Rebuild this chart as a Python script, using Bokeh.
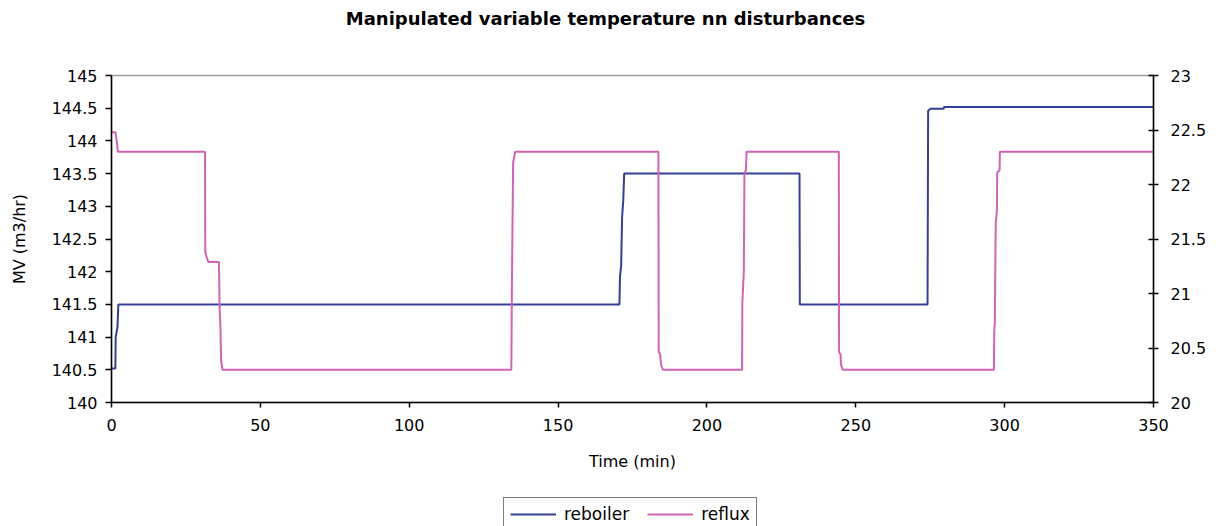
from bokeh.plotting import figure
from bokeh.layouts import column
from bokeh.models import (Range1d, LinearAxis, Legend, LegendItem, Label,
                          FixedTicker, CustomJSTickFormatter)
from bokeh.embed import file_html
from bokeh.resources import INLINE

# Reboiler flow (left axis) and reflux flow (right axis) against time
reboiler_time = [0, 1.3, 1.4, 2.0, 2.3, 170.6, 170.8, 171.2, 171.5, 171.9, 172.2,
                 231.1, 231.2, 274.1, 274.3, 275.0, 279.5, 279.7, 350]
reboiler_mv = [140.52, 140.52, 141.0, 141.15, 141.5, 141.5, 141.92, 142.1, 142.83,
               143.09, 143.5, 143.5, 141.5, 141.5, 144.46, 144.49, 144.49, 144.52, 144.52]

reflux_time = [0, 1.3, 1.9, 2.1, 31.4, 31.5, 32.0, 32.5, 36.1, 36.3, 36.6, 36.8, 37.3,
               134.3, 134.5, 134.9, 135.6, 183.7, 183.8, 184.3, 184.6, 185.2,
               211.8, 211.9, 212.4, 212.6, 213.1, 213.3, 244.3, 244.4, 244.9, 245.0, 245.6,
               296.4, 296.5, 296.7, 297.0, 297.4, 297.5, 298.3, 298.4, 350]
reflux_mv = [22.48, 22.48, 22.37, 22.30, 22.30, 21.38, 21.33, 21.29, 21.29, 20.87, 20.69,
             20.39, 20.30, 20.30, 21.1, 22.2, 22.30, 22.30, 20.47, 20.44, 20.35, 20.30,
             20.30, 20.91, 21.21, 22.11, 22.13, 22.30, 22.30, 20.46, 20.44, 20.35, 20.30,
             20.30, 20.66, 20.72, 21.64, 21.76, 22.11, 22.13, 22.30, 22.30]

series_names = ["reboiler", "reflux"]
x_ticks = [0, 50, 100, 150, 200, 250, 300, 350]
left_ticks = [140, 140.5, 141, 141.5, 142, 142.5, 143, 143.5, 144, 144.5, 145]
right_ticks = [20, 20.5, 21, 21.5, 22, 22.5, 23]

FONT = "DejaVu Sans"
BLUE = "#363f96"
PINK = "#d064b4"
W = 1222


def bare_figure(height):
    f = figure(width=W, height=height, output_backend="svg", toolbar_location=None,
               x_axis_type=None, y_axis_type=None,
               x_range=Range1d(0, 1), y_range=Range1d(0, 1),
               min_border_left=0, min_border_right=0, min_border_top=0,
               min_border_bottom=0, background_fill_color="white",
               border_fill_color="white")
    f.outline_line_color = None
    f.xgrid.visible = False
    f.ygrid.visible = False
    return f


# --- title strip (its frame lines up with the chart frame, x measured from there) ---
head = bare_figure(40)
head.add_layout(Label(x=494, y=22, x_units="screen", y_units="screen",
                      text="Manipulated variable temperature nn disturbances",
                      text_font=FONT, text_font_size="18px", text_font_style="bold",
                      text_align="center", text_baseline="middle", text_color="black"))

# --- main chart ---
p = figure(width=W, height=455, output_backend="svg", toolbar_location=None,
           x_range=Range1d(0, 350), y_range=Range1d(140, 145),
           min_border_left=111, min_border_right=69, min_border_top=35,
           min_border_bottom=93, background_fill_color="white",
           border_fill_color="white")
p.extra_y_ranges = {"reflux": Range1d(20, 23)}
p.xgrid.visible = False
p.ygrid.visible = False
p.outline_line_color = "#a0a0a0"
p.outline_line_width = 1.5

fmt = CustomJSTickFormatter(code="return tick.toString();")


def style_axis(ax):
    ax.axis_line_color = "black"
    ax.axis_line_width = 1.5
    ax.major_tick_line_color = "black"
    ax.major_tick_line_width = 1.5
    ax.minor_tick_line_color = None
    ax.major_label_text_font = FONT
    ax.major_label_text_font_size = "16px"
    ax.major_label_text_color = "black"
    ax.axis_label_text_font = FONT
    ax.axis_label_text_font_size = "16px"
    ax.axis_label_text_font_style = "normal"
    ax.axis_label_text_color = "black"
    ax.formatter = fmt


xa = p.xaxis[0]
style_axis(xa)
xa.ticker = FixedTicker(ticks=x_ticks)
xa.major_tick_in = 0
xa.major_tick_out = 5
xa.major_label_standoff = 11
xa.axis_label = "Time (min)"
xa.axis_label_standoff = 18

ya = p.yaxis[0]
style_axis(ya)
ya.ticker = FixedTicker(ticks=left_ticks)
ya.major_tick_in = 0
ya.major_tick_out = 6
ya.major_label_standoff = 8
ya.axis_label = "MV (m3/hr)"
ya.axis_label_standoff = 20

ra = LinearAxis(y_range_name="reflux")
style_axis(ra)
ra.ticker = FixedTicker(ticks=right_ticks)
ra.major_tick_in = 5
ra.major_tick_out = 5
ra.major_label_standoff = 12
p.add_layout(ra, "right")

p.line(reboiler_time, reboiler_mv, line_color=BLUE, line_width=2)
p.line(reflux_time, reflux_mv, line_color=PINK, line_width=2, y_range_name="reflux")

# --- legend strip: key lines sit outside the strip's range, only their legend glyphs show ---
foot = bare_figure(31)
key_reb = foot.line([-5, -4], [-5, -4], line_color=BLUE, line_width=2)
key_ref = foot.line([-5, -4], [-5, -4], line_color=PINK, line_width=2)
legend = Legend(items=[LegendItem(label=series_names[0], renderers=[key_reb]),
                       LegendItem(label=series_names[1], renderers=[key_ref])],
                orientation="horizontal", location=(392, -5),
                border_line_color="black", border_line_width=1.5,
                background_fill_color="white", background_fill_alpha=1,
                label_text_font=FONT, label_text_font_size="17px",
                label_text_color="black",
                glyph_width=46, glyph_height=16, label_standoff=8,
                spacing=18, padding=6, margin=0)
foot.add_layout(legend, "center")

layout = column(head, p, foot, spacing=0)
open("out.html", "w").write(file_html(layout, INLINE))
